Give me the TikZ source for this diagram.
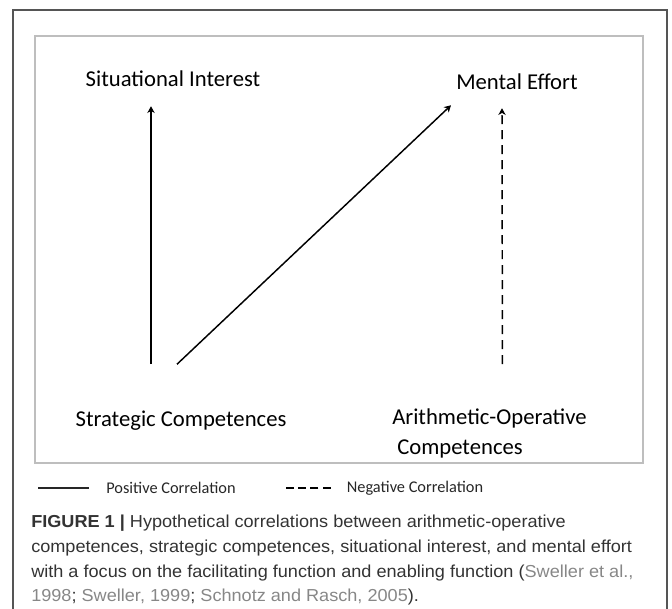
\documentclass[tikz,border=0pt]{standalone}
\usepackage{fontspec}
\setmainfont{Carlito}
\newfontfamily\capfont[FakeStretch=1.045]{Liberation Sans}
\usetikzlibrary{arrows.meta,calc}
\definecolor{framegray}{RGB}{85,85,85}
\definecolor{boxgray}{RGB}{190,190,190}
\definecolor{captext}{RGB}{51,51,51}
\definecolor{citegray}{RGB}{135,135,135}

\begin{document}
\begin{tikzpicture}[x=0.75pt,y=0.75pt,yscale=-1,xscale=1,
        varlabel/.style={inner sep=0pt,font=\fontsize{17}{22.5}\selectfont,text height=12pt,text depth=3.75pt},
        keylabel/.style={inner sep=0pt,font=\fontsize{12.25}{14}\selectfont,text=black!85},
        poscor/.style={draw=black,line width=1.1pt,-{Stealth[length=5pt,width=5.5pt,inset=1.5pt]}},
        negcor/.style={poscor,dash pattern=on 6.75pt off 4.5pt}]
        \useasboundingbox (0,0) rectangle (672,608);
        %Outer Frame
        \draw [color=framegray, line width=1.1pt] (13,10) rectangle (667,620);
        %Inner Box
        \draw [color=boxgray, line width=1.1pt] (35,36) rectangle (643,463);

        % Text Node
        \node [varlabel] (si) at (173,81) {Situational Interest};
        % Text Node
        \node [varlabel] (me) at (517,84) {Mental Effort};
        % Text Node
        \node [varlabel] (sc) at (181,421) {Strategic Competences};
        % Text Node
        \node [anchor=north west, inner sep=0pt, align=left, font=\fontsize{17}{22.5}\selectfont] (ao) at (392,408) {Arithmetic-Operative\\\hspace{3.75pt}Competences};

        %Straight Lines
        \draw [poscor] ($(sc.north)+(-30,-46)$) -- ($(si.south)+(-22,14.5)$);
        %Straight Lines
        \draw [poscor] ($(sc.north)+(-4,-46)$) -- ($(me.south)+(-66,10.5)$);
        %Straight Lines
        \draw [negcor] ($(ao.north)+(13,-44)$) -- ($(me.south)+(-15,13.5)$);

        % Legend
        \node [keylabel] (pc) at (171,488) {Positive Correlation};
        \node [keylabel] (nc) at (415,488) {Negative Correlation};
        \draw [line width=1.7pt, color=black!85] ($(pc.west)+(-17,0)$) -- ++(-51,0);
        \draw [line width=1pt, dash pattern=on 6pt off 3.25pt] ($(nc.west)+(-16,0)$) -- ++(-45,0);

        % Caption
        \node [anchor=north west, inner sep=0pt, align=left, text=captext, font=\capfont\fontsize{13}{18.5}\selectfont] (cap) at (31,515) {\textbf{FIGURE 1 |} Hypothetical correlations between arithmetic-operative\\competences, strategic competences, situational interest, and mental effort\\with a focus on the facilitating function and enabling function ({\color{citegray}Sweller et al.,}\\{\color{citegray}1998}; {\color{citegray}Sweller, 1999}; {\color{citegray}Schnotz and Rasch, 2005}).};
\end{tikzpicture}
\end{document}
